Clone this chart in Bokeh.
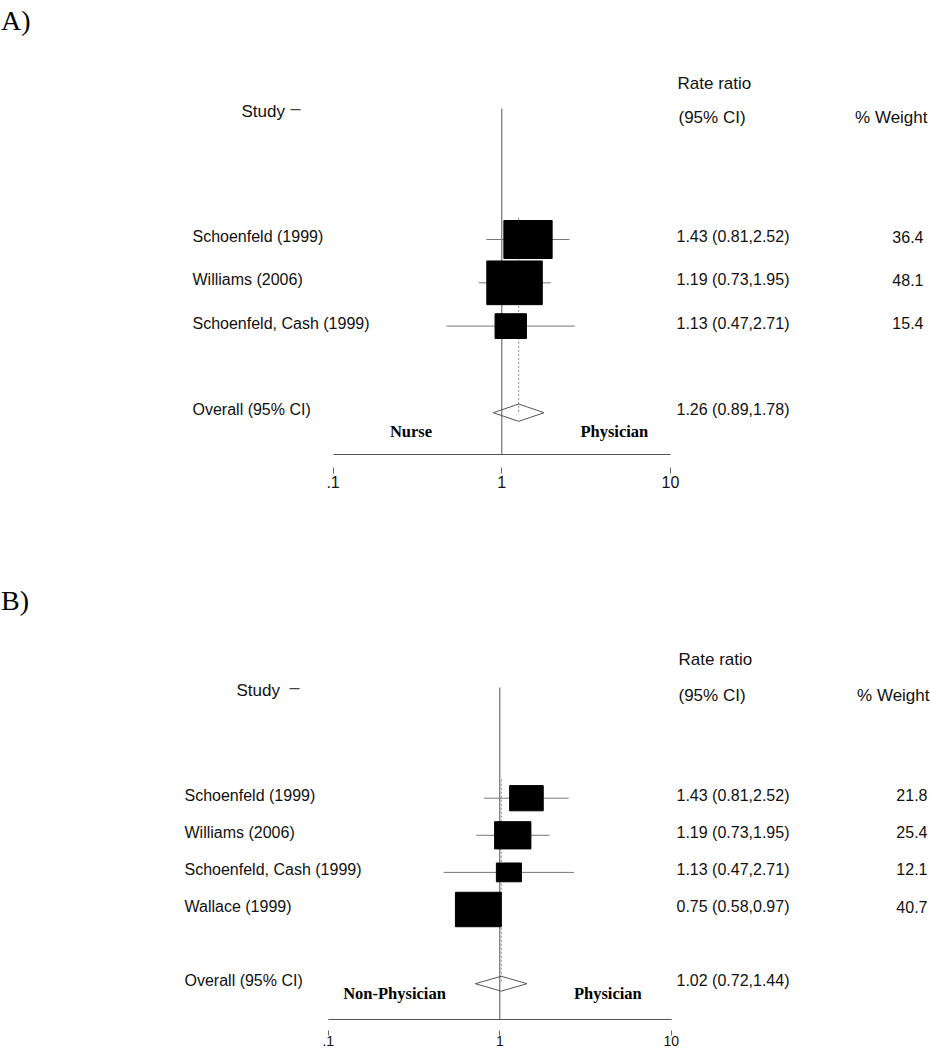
import math
from bokeh.plotting import figure
from bokeh.layouts import column
from bokeh.models import Range1d, LogAxis, FixedTicker, Grid
from bokeh.core.properties import value
from bokeh.embed import file_html
from bokeh.resources import INLINE

# ---------------- data ----------------
a_studies = ["Schoenfeld (1999)", "Williams (2006)", "Schoenfeld, Cash (1999)"]
a_rr = [1.43, 1.19, 1.13]
a_lo = [0.81, 0.73, 0.47]
a_hi = [2.52, 1.95, 2.71]
a_weight = [36.4, 48.1, 15.4]
a_overall = [1.26, 0.89, 1.78]          # estimate, lower, upper
a_sides = ["Nurse", "Physician"]

b_studies = ["Schoenfeld (1999)", "Williams (2006)", "Schoenfeld, Cash (1999)", "Wallace (1999)"]
b_rr = [1.43, 1.19, 1.13, 0.75]
b_lo = [0.81, 0.73, 0.47, 0.58]
b_hi = [2.52, 1.95, 2.71, 0.97]
b_weight = [21.8, 25.4, 12.1, 40.7]
b_overall = [1.02, 0.72, 1.44]
b_sides = ["Non-Physician", "Physician"]

overall_label = "Overall (95% CI)"
header_study = "Study"
header_rr = "Rate ratio"
header_ci = "(95% CI)"
header_w = "% Weight"
tick_values = [0.1, 1, 10]
tick_labels = [".1", "1", "10"]

SANS = value("Liberation Sans")
SERIF = value("Liberation Serif")
W = 930


def panel(letter, studies, rr, lo, hi, weight, overall, sides, cfg):
    one, ppd = cfg["one_px"], cfg["ppd"]
    row1, rh = cfg["row1_px"], cfg["row_h"]
    fh = cfg["frame_h"]

    def X(px):
        return 10 ** ((px - one) / ppd)

    def R(py):
        return 1 + (py - row1) / rh

    p = figure(width=W, height=cfg["height"], x_axis_type="log",
               x_axis_location=None, y_axis_location=None,
               x_range=Range1d(X(0), X(W)), y_range=Range1d(R(fh), R(0)),
               min_border_left=0, min_border_right=0, min_border_top=0,
               min_border_bottom=cfg["height"] - fh,
               toolbar_location=None, output_backend="svg")
    p.center = [c for c in p.center if not isinstance(c, Grid)]
    p.outline_line_color = None
    p.background_fill_color = "white"
    p.border_fill_color = "white"

    n = len(studies)
    rows = list(range(1, n + 1))
    orow = n + 2

    # reference line at 1
    p.segment(x0=[1], y0=[R(cfg["vline_top"])], x1=[1], y1=[R(fh)],
              line_color="#555555", line_width=1)
    # overall estimate dotted line
    p.segment(x0=[overall[0]], y0=[0.5], x1=[overall[0]], y1=[orow],
              line_color="#8a8a8a", line_width=1, line_dash="2 2")
    # confidence intervals
    p.segment(x0=lo, y0=rows, x1=hi, y1=rows, line_color="#777777", line_width=1)
    # weighted boxes
    p.rect(x=rr, y=rows,
           width=[cfg["kx"] * math.sqrt(w) for w in weight],
           height=[cfg["ky"] * math.sqrt(w) for w in weight],
           width_units="screen", height_units="screen",
           fill_color="black", line_color="black")
    # overall diamond
    est, olo, ohi = overall
    p.patches(xs=[[olo, est, ohi, est]],
              ys=[[orow, orow - 0.2, orow, orow + 0.2]],
              fill_color=None, line_color="#555555", line_width=1)

    # study labels
    names = studies + [overall_label]
    yrows = rows + [orow]
    p.text(x=[X(cfg["name_px"])] * len(names), y=yrows, text=names,
           text_font=SANS, text_font_size="16px", text_baseline="middle",
           text_align="left", text_color="#111111", y_offset=-3)
    ci_txt = [f"{r:.2f} ({l:.2f},{h:.2f})" for r, l, h in zip(rr, lo, hi)]
    ci_txt.append(f"{est:.2f} ({olo:.2f},{ohi:.2f})")
    p.text(x=[X(cfg["ci_px"])] * len(ci_txt), y=yrows, text=ci_txt,
           text_font=SANS, text_font_size="16px", text_baseline="middle",
           text_align="left", text_color="#111111", y_offset=-3)
    p.text(x=[X(cfg["w_px"])] * n, y=rows, text=[f"{w:.1f}" for w in weight],
           text_font=SANS, text_font_size="16px", text_baseline="middle",
           text_align="right", text_color="#111111", y_offset=-3)

    # headers
    p.text(x=[X(0.5)], y=[R(cfg["letter_base"])], text=[letter],
           text_font=SERIF, text_font_size="28px", text_baseline="alphabetic",
           text_align="left", text_color="black")
    p.text(x=[X(cfg["study_px"])], y=[R(cfg["study_y"])], text=[header_study],
           text_font=SANS, text_font_size="17px", text_baseline="middle",
           text_align="left", text_color="#111111")
    p.text(x=[X(cfg["dash_px"])], y=[R(cfg["dash_y"])], text=["\u2013"],
           text_font=SANS, text_font_size="18px", text_baseline="middle",
           text_align="left", text_color="#444444")
    p.text(x=[X(cfg["rr_px"])], y=[R(cfg["rr_y"])], text=[header_rr],
           text_font=SANS, text_font_size="17px", text_baseline="middle",
           text_align="left", text_color="#111111")
    p.text(x=[X(cfg["ci_head_px"])], y=[R(cfg["ci_y"])], text=[header_ci],
           text_font=SANS, text_font_size="17px", text_baseline="middle",
           text_align="left", text_color="#111111")
    p.text(x=[X(cfg["wh_px"])], y=[R(cfg["ci_y"])], text=[header_w],
           text_font=SANS, text_font_size="17px", text_baseline="middle",
           text_align="right", text_color="#111111")

    # side labels
    p.text(x=[X(cfg["left_side_px"]), X(cfg["right_side_px"])],
           y=[R(cfg["side_y"])] * 2, text=sides,
           text_font=SERIF, text_font_size="16.5px", text_font_style="bold",
           text_baseline="middle", text_align="center", text_color="black")

    # axis: line spanning .1-10, ticks detached below the line
    ax = LogAxis(ticker=FixedTicker(ticks=tick_values, minor_ticks=[]),
                 bounds=(tick_values[0], tick_values[-1]),
                 axis_line_color="#555555", axis_line_width=1,
                 major_tick_in=-cfg["gap"], major_tick_out=cfg["gap"] + cfg["tick"],
                 major_tick_line_color="#666666", major_tick_line_width=1,
                 minor_tick_line_color=None,
                 major_label_standoff=cfg["standoff"],
                 major_label_overrides=dict(zip(tick_values, tick_labels)),
                 major_label_text_font="Liberation Sans",
                 major_label_text_font_size=cfg["tick_font"],
                 major_label_text_color="#111111")
    p.add_layout(ax, "below")
    return p


B_TOP = 515
cfg_a = dict(height=B_TOP, frame_h=454, one_px=501.3, ppd=168.7, row1_px=239, row_h=43.3,
             kx=8.0, ky=6.3, vline_top=108, name_px=192, ci_px=676, w_px=923,
             letter_base=20, study_px=241, dash_px=290, study_y=111, dash_y=107,
             rr_px=677, rr_y=83, ci_head_px=678, ci_y=117, wh_px=927,
             left_side_px=410.5, right_side_px=613.8, side_y=431,
             gap=13, tick=6, standoff=2, tick_font="16px")
cfg_b = dict(height=1050 - B_TOP, frame_h=1019 - B_TOP, one_px=499.3, ppd=171.5,
             row1_px=797.7 - B_TOP, row_h=37.1,
             kx=7.2, ky=5.4, vline_top=687 - B_TOP, name_px=184, ci_px=676, w_px=927,
             letter_base=600 - B_TOP, study_px=236, dash_px=289, study_y=690 - B_TOP,
             dash_y=686 - B_TOP, rr_px=678, rr_y=659 - B_TOP, ci_head_px=678,
             ci_y=695 - B_TOP, wh_px=929,
             left_side_px=394, right_side_px=607.3, side_y=992.5 - B_TOP,
             gap=11, tick=5, standoff=0, tick_font="14px")

pa = panel("A)", a_studies, a_rr, a_lo, a_hi, a_weight, a_overall, a_sides, cfg_a)
pb = panel("B)", b_studies, b_rr, b_lo, b_hi, b_weight, b_overall, b_sides, cfg_b)

layout = column(pa, pb, spacing=0)
open("out.html", "w").write(file_html(layout, INLINE))
